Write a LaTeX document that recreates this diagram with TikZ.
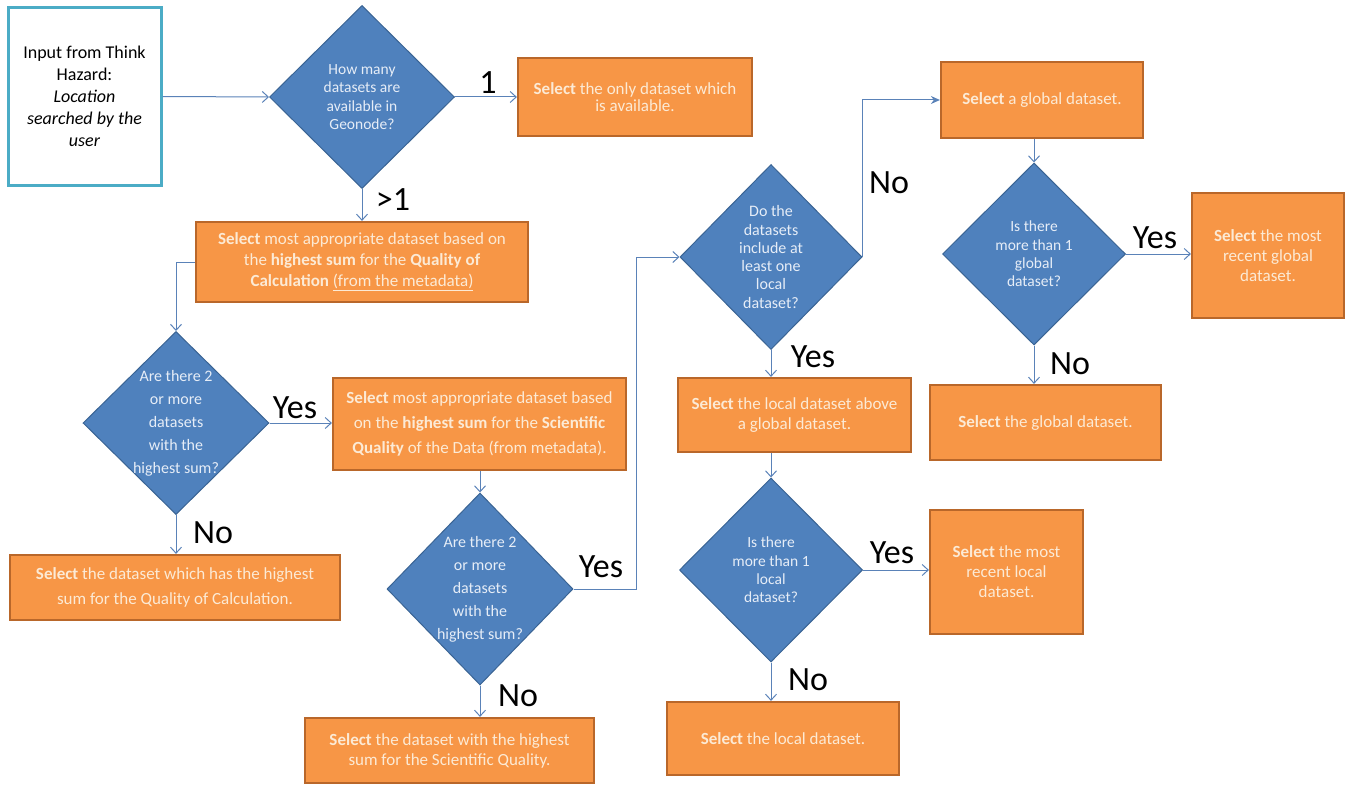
\documentclass[tikz,border=0pt]{standalone}
\usepackage{fontspec}
\setmainfont{Carlito}
\usetikzlibrary{shapes.geometric,arrows.meta}
\definecolor{boxfill}{HTML}{F79646}
\definecolor{boxborder}{HTML}{B9672A}
\definecolor{boxtext}{HTML}{FCEAD5}
\definecolor{diafill}{HTML}{4F81BD}
\definecolor{diaborder}{HTML}{3A6494}
\definecolor{diatext}{HTML}{E6EDF7}
\definecolor{connc}{HTML}{5A82B8}
\definecolor{inborder}{HTML}{4BACC6}
\begin{document}
\begin{tikzpicture}[x=1pt,y=-1pt,
  box/.style={draw=boxborder, line width=2.2pt, fill=boxfill, text=boxtext, align=center, inner sep=0pt},
  bxlead/.style={font=\fontsize{17}{#1}\selectfont},
  dia/.style={diamond, draw=diaborder, line width=1pt, fill=diafill, inner sep=0pt, aspect=1},
  dtext/.style={text=diatext, align=center, inner sep=0pt, font=\fontsize{15.5}{#1}\selectfont},
  dtextb/.style={text=diatext, align=center, inner sep=0pt, font=\fontsize{16}{#1}\selectfont},
  lab/.style={font=\fontsize{34}{34}\selectfont, inner sep=0pt, text=black},
  conn/.style={draw=connc, line width=1pt, -{Straight Barb[length=6pt,width=11pt]}},
  connf/.style={draw=connc, line width=1pt, -{Stealth[length=9pt,width=8pt]}}
]
\useasboundingbox (0,0) rectangle (1351,789);

% input
\node[draw=inborder, line width=3pt, fill=white, align=center, inner sep=0pt,
  minimum width=153pt, minimum height=177pt, font=\fontsize{18}{22}\selectfont]
  (in) at (84.5,96.5) {Input from Think\\Hazard:\\\textit{Location}\\\textit{searched by the}\\\textit{user}};

% diamonds
\node[dia, minimum width=185pt, minimum height=183pt] (d1) at (362,97) {};
\node[dtext=18.3] (d1t) at (d1) {How many\\datasets are\\available in\\Geonode?};
\node[dia, minimum width=186pt, minimum height=183pt] (d3) at (176,423) {};
\node[dtextb=23] (d3t) at (d3) {Are there 2\\or more\\datasets\\with the\\highest sum?};
\node[dia, minimum width=186pt, minimum height=192pt] (d5) at (480,589) {};
\node[dtextb=23] (d5t) at (d5) {Are there 2\\or more\\datasets\\with the\\highest sum?};
\node[dia, minimum width=182pt, minimum height=185pt] (d6) at (771,257) {};
\node[dtextb=18.3] (d6t) at (d6) {Do the\\datasets\\include at\\least one\\local\\dataset?};
\node[dia, minimum width=183pt, minimum height=182pt] (d7) at (1034,254) {};
\node[dtext=18.3] (d7t) at (d7) {Is there\\more than 1\\global\\dataset?};
\node[dia, minimum width=183pt, minimum height=184pt] (d8) at (771,570) {};
\node[dtext=18.3] (d8t) at (d8) {Is there\\more than 1\\local\\dataset?};

% boxes
\node[box, bxlead=17.5, minimum width=234pt, minimum height=78pt] (bOnly) at (635,97)
  {\textbf{Select} the only dataset which\\is available.};
\node[box, bxlead=21, minimum width=332pt, minimum height=80pt] (b2) at (362,262)
  {\textbf{Select} most appropriate dataset based on\\the \textbf{highest sum} for the \textbf{Quality of}\\\textbf{Calculation} \underline{(from the metadata)}};
\node[box, bxlead=25, minimum width=293pt, minimum height=92pt] (b3) at (479.5,424)
  {\textbf{Select} most appropriate dataset based\\on the \textbf{highest sum} for the \textbf{Scientific}\\\textbf{Quality} of the Data (from metadata).};
\node[box, bxlead=25, minimum width=330pt, minimum height=65pt] (b4) at (175,587.5)
  {\textbf{Select} the dataset which has the highest\\sum for the Quality of Calculation.};
\node[box, bxlead=20, minimum width=289pt, minimum height=65pt] (bSQ) at (449.5,750.5)
  {\textbf{Select} the dataset with the highest\\sum for the Scientific Quality.};
\node[box, bxlead=20, minimum width=202pt, minimum height=76pt] (bG) at (1042,100)
  {\textbf{Select} a global dataset.};
\node[box, bxlead=20, minimum width=152pt, minimum height=125pt] (bMRG) at (1268,255.5)
  {\textbf{Select} the most\\recent global\\dataset.};
\node[box, bxlead=20, minimum width=231pt, minimum height=75pt] (bGD) at (1045.5,422.5)
  {\textbf{Select} the global dataset.};
\node[box, bxlead=20, minimum width=233pt, minimum height=74pt] (bL) at (794.5,415)
  {\textbf{Select} the local dataset above\\a global dataset.};
\node[box, bxlead=20, minimum width=153pt, minimum height=124pt] (bMRL) at (1006.5,572)
  {\textbf{Select} the most\\recent local\\dataset.};
\node[box, bxlead=20, minimum width=232pt, minimum height=73pt] (bLD) at (783,738.5)
  {\textbf{Select} the local dataset.};

% connectors
\draw[conn] (in.east) -- (d1.west);
\draw[conn] (d1.east) -- (bOnly.west);
\draw[conn] (d1.south) -- (b2.north);
\draw[conn] (b2.west) -| (d3.north);
\draw[conn] (d3.east) -- (d3.east -| b3.west);
\draw[conn] (d3.south) -- (d3.south |- b4.north);
\draw[conn] (d5.north |- b3.south) -- (d5.north);
\draw[conn] (d5.south) -- (d5.south |- bSQ.north);
\coordinate (k1) at (636,589);
\draw[conn] (d5.east) -- (k1) |- (d6.west);
\draw[connf] (d6.east) |- (bG.west);
\draw[conn] (d6.south) -- (d6.south |- bL.north);
\draw[conn] (d7.north |- bG.south) -- (d7.north);
\draw[conn] (d7.east) -- (d7.east -| bMRG.west);
\draw[conn] (d7.south) -- (d7.south |- bGD.north);
\draw[conn] (d8.north |- bL.south) -- (d8.north);
\draw[conn] (d8.east) -- (d8.east -| bMRL.west);
\draw[conn] (d8.south) -- (d8.south |- bLD.north);

% labels
\node[lab] (l1) at (488,83) {1};
\node[lab] (l2) at (393,200) {>1};
\node[lab] (l3) at (295,408) {Yes};
\node[lab] (l4) at (213,533) {No};
\node[lab] (l5) at (601,567) {Yes};
\node[lab] (l6) at (518,696) {No};
\node[lab] (l7) at (889,183) {No};
\node[lab] (l8) at (813,357) {Yes};
\node[lab] (l9) at (1155,238) {Yes};
\node[lab] (l10) at (1070,364) {No};
\node[lab] (l11) at (892,553) {Yes};
\node[lab] (l12) at (808,680) {No};
\end{tikzpicture}
\end{document}
